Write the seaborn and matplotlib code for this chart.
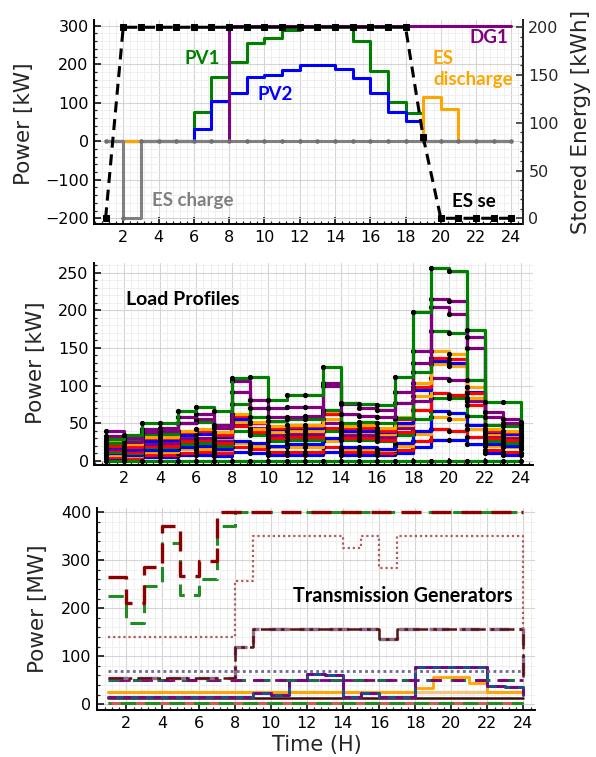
import numpy as np
import pandas as pd
import matplotlib
matplotlib.use("Agg")
import matplotlib.pyplot as plt
import seaborn as sns
from matplotlib.ticker import MultipleLocator

sns.set_style("white")
plt.rcParams['font.family'] = ['DejaVu Sans']

hours = list(range(1, 25))
xticks = list(range(2, 25, 2))

# ---------------- top panel (microgrid dispatch) ----------------
pv1 = [0, 0, 0, 0, 0, 77, 168, 207, 256, 268, 289, 300, 300, 300, 261, 182, 102, 74, 0, 0, 0, 0, 0, 0]
pv2 = [0, 0, 0, 0, 0, 32, 105, 126, 166, 172, 186, 199, 197, 187, 165, 125, 76, 53, 0, 0, 0, 0, 0, 0]
dg1 = [0, 0, 0, 0, 0, 0, 0, 300, 300, 300, 300, 300, 300, 300, 300, 300, 300, 300, 300, 300, 300, 300, 300, 300]
es_discharge = [0, 0, 0, 0, 0, 0, 0, 0, 0, 0, 0, 0, 0, 0, 0, 0, 0, 0, 115, 85, 0, 0, 0, 0]
es_charge = [0, -200, 0, 0, 0, 0, 0, 0, 0, 0, 0, 0, 0, 0, 0, 0, 0, 0, 0, 0, 0, 0, 0, 0]
es_energy = [0, 200, 200, 200, 200, 200, 200, 200, 200, 200, 200, 200, 200, 200, 200, 200, 200, 200, 85, 0, 0, 0, 0, 0]

# ---------------- middle panel (load profiles, kW) ----------------
load_colors = ["#0000FF", "#FF0000", "#FFA500", "#0000FF", "#008000", "#FF0000", "#800080",
               "#FFA500", "#0000FF", "#FF0000", "#FFA500", "#008000", "#800080", "#800080", "#008000",
               "#008000"]
load_profiles = [
    [3, 2, 5, 5, 7, 8, 6, 12, 10, 8, 8, 8, 12, 8, 8, 7, 10, 18, 28, 27, 22, 10, 8, 7],
    [5, 4, 8, 8, 10, 12, 10, 18, 16, 12, 12, 12, 18, 12, 12, 10, 14, 26, 42, 40, 32, 14, 12, 10],
    [8, 6, 12, 12, 16, 16, 14, 24, 20, 18, 18, 18, 26, 16, 16, 14, 20, 36, 58, 56, 42, 20, 18, 16],
    [10, 8, 14, 14, 18, 20, 16, 26, 24, 20, 22, 22, 30, 18, 18, 16, 24, 40, 66, 64, 48, 22, 20, 18],
    [12, 10, 18, 18, 22, 24, 20, 40, 34, 26, 28, 28, 40, 28, 28, 26, 34, 56, 83, 84, 60, 26, 24, 22],
    [14, 12, 20, 20, 26, 28, 24, 46, 38, 30, 32, 32, 44, 30, 30, 28, 38, 68, 90, 88, 74, 30, 28, 26],
    [16, 14, 22, 24, 30, 30, 28, 50, 44, 34, 36, 36, 50, 34, 34, 32, 44, 80, 110, 108, 80, 34, 32, 28],
    [22, 18, 26, 28, 34, 36, 30, 52, 42, 38, 40, 40, 56, 38, 38, 36, 48, 86, 128, 126, 84, 36, 34, 30],
    [18, 16, 26, 28, 34, 36, 32, 55, 50, 42, 44, 44, 64, 40, 40, 38, 50, 94, 132, 130, 92, 38, 36, 32],
    [20, 18, 30, 30, 38, 40, 34, 60, 50, 44, 45, 46, 62, 44, 44, 40, 56, 98, 137, 135, 90, 40, 38, 34],
    [26, 22, 32, 32, 40, 42, 38, 62, 52, 46, 47, 48, 66, 46, 47, 44, 58, 104, 146, 142, 98, 42, 40, 36],
    [24, 28, 36, 36, 50, 52, 46, 76, 58, 53, 55, 55, 68, 50, 52, 50, 57, 118, 173, 170, 107, 48, 46, 40],
    [33, 25, 38, 40, 50, 56, 44, 92, 70, 58, 58, 60, 100, 62, 60, 58, 77, 130, 205, 195, 150, 58, 50, 44],
    [40, 30, 42, 43, 58, 62, 48, 106, 81, 70, 72, 72, 103, 76, 70, 68, 92, 146, 215, 212, 164, 65, 56, 48],
    [29, 34, 50, 50, 66, 72, 66, 110, 112, 81, 87, 87, 124, 77, 75, 74, 112, 198, 257, 252, 174, 78, 78, 52],
    [0, 0, 0, 0, 0, 0, 0, 0, 0, 0, 0, 0, 0, 0, 0, 0, 0, 0, 0, 0, 0, 0, 0, 0],
]

# ---------------- bottom panel (transmission generators, MW) ----------------
tg_darkred = [265, 212, 285, 372, 268, 298, 400, 400, 400, 400, 400, 400, 400, 400, 400, 400, 400, 400, 400, 400, 400, 400, 400, 400]
tg_green = [225, 169, 246, 337, 227, 261, 371, 400, 400, 400, 400, 400, 400, 400, 400, 400, 400, 400, 400, 400, 400, 400, 400, 400]
tg_dotted = [141, 141, 141, 141, 141, 141, 141, 257, 351, 351, 351, 351, 351, 325, 351, 283, 351, 351, 351, 351, 351, 351, 351, 150]
tg_dashdot = [55, 55, 55, 55, 55, 55, 55, 120, 156, 156, 156, 156, 156, 156, 156, 135, 156, 156, 156, 156, 156, 156, 156, 57]
tg_slate = [70] * 24
tg_teal = [51] * 24
tg_navy = [16, 16, 16, 16, 16, 16, 16, 16, 24, 20, 51, 64, 60, 16, 23, 16, 16, 78, 78, 78, 78, 39, 35, 19]
tg_orange = [26, 26, 26, 26, 26, 26, 26, 26, 26, 26, 26, 26, 26, 26, 26, 26, 26, 33, 57, 57, 44, 26, 26, 26]
tg_paleorange = [26] * 24
tg_maroon = [14] * 24
tg_low = [3] * 24

# ---------------- figure ----------------
W, H = 596, 757
fig = plt.figure(figsize=(W / 100, H / 100), dpi=100)


def frac(l, t, r, b):
    return [l / W, (H - b) / H, (r - l) / W, (b - t) / H]


ax1 = fig.add_axes(frac(94.3, 20, 522.7, 224))
ax3 = fig.add_axes(frac(94.3, 263, 533, 465))
ax4 = fig.add_axes(frac(96.7, 508, 535, 710))

GRID_MAJ = "#d4d4d4"
GRID_MIN = "#ededed"


def style(ax, ylim, ymaj, ymin, spines=("left", "bottom")):
    ax.set_xlim(0.36, 24.64)
    ax.set_ylim(*ylim)
    ax.set_xticks(xticks)
    ax.xaxis.set_minor_locator(MultipleLocator(0.4))
    ax.yaxis.set_major_locator(MultipleLocator(ymaj))
    ax.yaxis.set_minor_locator(MultipleLocator(ymin))
    ax.grid(which="major", color=GRID_MAJ, lw=0.8, zorder=0)
    ax.grid(which="minor", color=GRID_MIN, lw=0.6, zorder=0)
    ax.set_axisbelow(True)
    for s in ["left", "right", "top", "bottom"]:
        ax.spines[s].set_visible(s in spines)
        ax.spines[s].set_linewidth(1.4)
        ax.spines[s].set_color("black")
    ax.tick_params(which="major", direction="in", length=5, width=1.1, labelsize=11.5, pad=4,
                   left=True, bottom=True, right=False, top=False, colors="black")
    ax.tick_params(which="minor", direction="in", length=2.5, width=0.9,
                   left=True, bottom=True, right=False, top=False)
    ax.set_xlabel("")


def step(ax, y, color, lw=2.0, **kw):
    df = pd.DataFrame({"t": hours, "v": y})
    sns.lineplot(data=df, x="t", y="v", ax=ax, color=color, lw=lw, drawstyle="steps-post",
                 estimator=None, errorbar=None, **kw)


# ---- top ----
step(ax1, pv1, "#008000", lw=2.2)
step(ax1, pv2, "#0000FF", lw=2.2)
step(ax1, dg1, "#800080", lw=2.2)
step(ax1, es_discharge, "#FFA500", lw=2.2)
step(ax1, es_charge, "#808080", lw=2.2, marker="o", markersize=2.5,
     markerfacecolor="#707070", markeredgecolor="#707070")
style(ax1, (-215, 315), 100, 20, spines=("left", "bottom", "right"))
ax1.set_ylabel("Power [kW]", fontsize=15.5, va="center")
ax1.yaxis.set_label_coords(-0.165, 0.49)

ax2 = ax1.twinx()
df_e = pd.DataFrame({"t": hours, "v": es_energy})
sns.lineplot(data=df_e, x="t", y="v", ax=ax2, color="black", lw=2.2, linestyle=(0, (3.6, 2.2)),
             marker="s", markersize=4.5, markerfacecolor="black", markeredgecolor="black",
             estimator=None, errorbar=None)
ax2.set_ylim(-6, 207.6)
ax2.yaxis.set_major_locator(MultipleLocator(50))
ax2.yaxis.set_minor_locator(MultipleLocator(10))
for s in ["left", "top", "bottom"]:
    ax2.spines[s].set_visible(False)
ax2.spines["right"].set_linewidth(1.4)
ax2.tick_params(which="major", direction="in", length=5, width=1.1, labelsize=11.5, pad=4)
ax2.tick_params(which="minor", direction="in", length=2.5, width=0.9)
ax2.set_ylabel("Stored Energy [kWh]", fontsize=15.5, va="center", rotation=90)
ax2.yaxis.set_label_coords(1.136, 0.5)
ax2.set_xlabel("")

BOLD = ["Lato", "DejaVu Sans"]
lab = dict(fontweight="bold", fontsize=13.5, family=BOLD, ha="center", va="center")
ax1.text(6.45, 215, "PV1", color="#008000", **lab)
ax1.text(10.64, 122, "PV2", color="#0000FF", **lab)
ax1.text(22.7, 270, "DG1", color="#800080", **lab)
ax1.text(19.55, 188, "ES\ndischarge", color="#FFA500", fontweight="bold", fontsize=13.5,
         family=BOLD, ha="left", va="center", linespacing=1.3)
ax1.text(5.96, -153, "ES charge", color="#808080", **lab)
ax1.text(21.9, -157, "ES se", color="black", **lab)

# ---- middle ----
for vals, col in zip(load_profiles, load_colors):
    step(ax3, vals, col, lw=2.3, marker="o", markersize=3.0,
         markerfacecolor="black", markeredgecolor="black")
style(ax3, (-5.7, 263), 50, 10)
ax3.set_ylabel("Power [kW]", fontsize=15.5, va="center")
ax3.yaxis.set_label_coords(-0.133, 0.505)
ax3.text(5.27, 214, "Load Profiles", color="black", fontweight="bold", fontsize=14,
         family=BOLD, ha="center", va="center")

# ---- bottom ----
step(ax4, tg_low, "#CD5C5C", lw=2.2, linestyle=(0, (5, 3)))
step(ax4, tg_low, "#228B22", lw=2.2, linestyle=(4, (5, 3)))
step(ax4, tg_maroon, "#3F0A0A", lw=1.8)
step(ax4, tg_paleorange, "#F3C783", lw=2.4)
step(ax4, tg_orange, "#FFA500", lw=2.0)
step(ax4, tg_navy, "#1F4E8C", lw=2.2)
step(ax4, tg_navy, "#800080", lw=1.8, linestyle=(0, (3, 3)))
step(ax4, tg_teal, "#1E6B50", lw=2.2, linestyle=(0, (5, 3)))
step(ax4, tg_teal, "#800080", lw=2.0, linestyle=(4, (4, 4)))
step(ax4, tg_slate, "#6A6A8A", lw=2.0, linestyle=(0, (1, 1.2)))
step(ax4, tg_dashdot, "#8E6E8E", lw=2.4, linestyle=(0, (6, 3)))
step(ax4, tg_dashdot, "#5A1212", lw=1.8, linestyle=(0, (6, 2, 1.5, 2)))
step(ax4, tg_dotted, "#B45A5A", lw=1.6, linestyle=(0, (1, 1.3)))
step(ax4, tg_green, "#228B22", lw=2.2, linestyle=(0, (5, 3)))
step(ax4, tg_darkred, "#8B0000", lw=2.4, linestyle=(0, (6, 3)))
style(ax4, (-12, 409), 100, 20)
ax4.set_ylabel("Power [MW]", fontsize=15.5, va="center")
ax4.yaxis.set_label_coords(-0.134, 0.502)
ax4.set_xlabel("Time (H)", fontsize=15, va="center")
ax4.xaxis.set_label_coords(0.503, -0.172)
ax4.text(17.33, 226, "Transmission Generators", color="black", fontweight="bold", fontsize=14.2,
         family=BOLD, ha="center", va="center")

fig.savefig("out.png", dpi=100)
